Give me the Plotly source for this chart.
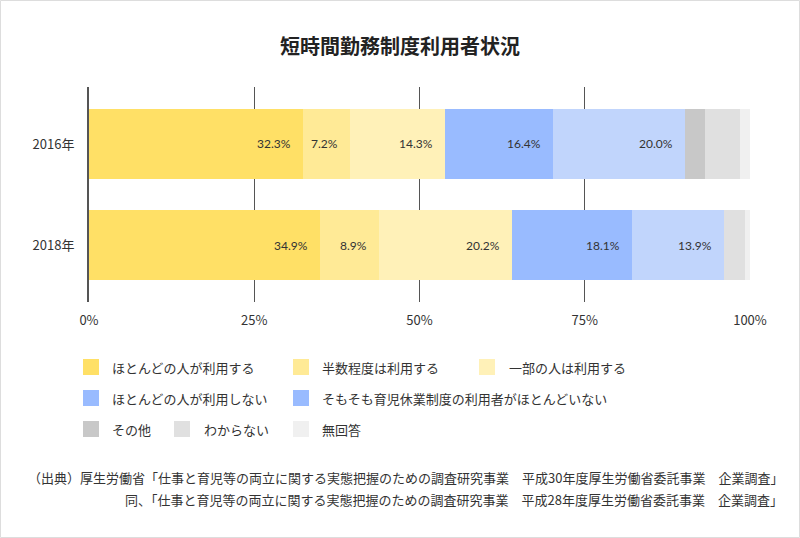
import plotly.graph_objects as go

# ---------------- data ----------------
YEARS = ["2016年", "2018年"]
CATEGORIES = [
    "ほとんどの人が利用する",
    "半数程度は利用する",
    "一部の人は利用する",
    "ほとんどの人が利用しない",
    "そもそも育児休業制度の利用者がほとんどいない",
    "その他",
    "わからない",
    "無回答",
]
MOSTLY_USE = [32.3, 34.9]
HALF_USE = [7.2, 8.9]
SOME_USE = [14.3, 20.2]
MOSTLY_NOT = [16.4, 18.1]
HARDLY_ANY = [20.0, 13.9]
OTHER = [3.0, 0.0]
UNKNOWN = [5.3, 3.2]
NO_ANSWER = [1.5, 0.8]
SERIES = [MOSTLY_USE, HALF_USE, SOME_USE, MOSTLY_NOT, HARDLY_ANY, OTHER, UNKNOWN, NO_ANSWER]
LABELED = [True, True, True, True, True, False, False, False]
X_TICKS = [0, 25, 50, 75, 100]
X_TICK_LABELS = ["0%", "25%", "50%", "75%", "100%"]

TITLE = "短時間勤務制度利用者状況"
SOURCE_LINES = [
    "（出典）厚生労働省「仕事と育児等の両立に関する実態把握のための調査研究事業　平成30年度厚生労働省委託事業　企業調査」",
    "同、「仕事と育児等の両立に関する実態把握のための調査研究事業　平成28年度厚生労働省委託事業　企業調査」",
]

# ---------------- style ----------------
BAR_COLORS = ["#FFE066", "#FFEA96", "#FFF1B8", "#99BBFF", "#C1D5FC", "#C8C8C8", "#E0E0E0", "#F0F0F0"]
LEGEND_COLORS = ["#FFE066", "#FFEA96", "#FFF1B8", "#99BBFF", "#99BBFF", "#C8C8C8", "#E0E0E0", "#F0F0F0"]
# (marker left px, text left px, row center px) for each legend entry
LEGEND_SLOTS = [
    (83, 110, 367), (293, 320, 367), (479, 507, 367),
    (83, 110, 398), (293, 320, 398),
    (83, 110, 429), (174, 202, 429), (293, 320, 429),
]
W, H = 800, 538
L, R, T, B = 89, 50, 87, 236
PW, PH = W - L - R, H - T - B
JP = "Noto Sans CJK JP"
TXT = "#333333"


def px_x(px):
    return (px - L) / PW


def px_y(py):
    return (H - B - py) / PH


fig = go.Figure()
for name, vals, color in zip(CATEGORIES, SERIES, BAR_COLORS):
    fig.add_trace(go.Bar(
        y=YEARS, x=vals, name=name, orientation="h",
        marker=dict(color=color, line=dict(width=0)),
        width=0.686, showlegend=False, hoverinfo="skip",
    ))

annotations = []
cum = [0.0 for _ in YEARS]
for vals, lab in zip(SERIES, LABELED):
    for j, v in enumerate(vals):
        cum[j] += v
        if lab and v > 0:
            annotations.append(dict(
                x=cum[j], y=YEARS[j], xref="x", yref="y",
                text=f"{v:.1f}%", showarrow=False, xanchor="right", yanchor="middle",
                xshift=-10, font=dict(family="Lato", size=12, color=TXT),
            ))

shapes = []
for (mx, tx, cy), name, color in zip(LEGEND_SLOTS, CATEGORIES, LEGEND_COLORS):
    shapes.append(dict(
        type="rect", xref="paper", yref="paper",
        x0=px_x(mx), x1=px_x(mx + 16), y0=px_y(cy + 8), y1=px_y(cy - 8),
        fillcolor=color, line=dict(width=0),
    ))
    annotations.append(dict(
        x=px_x(tx), y=px_y(cy), xref="paper", yref="paper", text=name,
        showarrow=False, xanchor="left", yanchor="middle",
        font=dict(family=JP, size=13, color=TXT),
    ))

for i, line in enumerate(SOURCE_LINES):
    annotations.append(dict(
        x=px_x(785), y=px_y(477 + 22 * i), xref="paper", yref="paper", text=line,
        showarrow=False, xanchor="right", yanchor="middle",
        font=dict(family=JP, size=13, color=TXT),
    ))

# outer frame
shapes.append(dict(
    type="rect", xref="paper", yref="paper",
    x0=px_x(0.5), x1=px_x(W - 0.5), y0=px_y(H - 0.5), y1=px_y(0.5),
    line=dict(color="#DDDDDD", width=1), fillcolor="rgba(0,0,0,0)", layer="below",
))

fig.update_layout(
    width=W, height=H, margin=dict(l=L, r=R, t=T, b=B),
    barmode="stack", paper_bgcolor="white", plot_bgcolor="white",
    title=dict(text=TITLE, x=0.5, xanchor="center", xref="container",
               y=1 - 47 / H, yanchor="middle", yref="container",
               font=dict(family=JP, size=20, color="#222222", weight="bold")),
    xaxis=dict(range=[0, 100], tickvals=X_TICKS, ticktext=X_TICK_LABELS,
               showgrid=True, gridcolor="#555555", gridwidth=1, zeroline=False,
               showline=False, ticks="outside", ticklen=6, tickcolor="rgba(0,0,0,0)",
               tickfont=dict(family=JP, size=13, color=TXT), fixedrange=True),
    yaxis=dict(type="category", range=[1.564, -0.564], showgrid=False, zeroline=False,
               showline=True, linecolor="#555555", linewidth=2,
               ticks="outside", ticklen=10, tickcolor="rgba(0,0,0,0)",
               tickfont=dict(family=JP, size=13, color=TXT), fixedrange=True),
    annotations=annotations, shapes=shapes, showlegend=False,
)

fig.write_html(
    "out.html",
    config={"displayModeBar": False},
    post_script="document.body.style.margin='0';document.body.style.padding='0';",
)
